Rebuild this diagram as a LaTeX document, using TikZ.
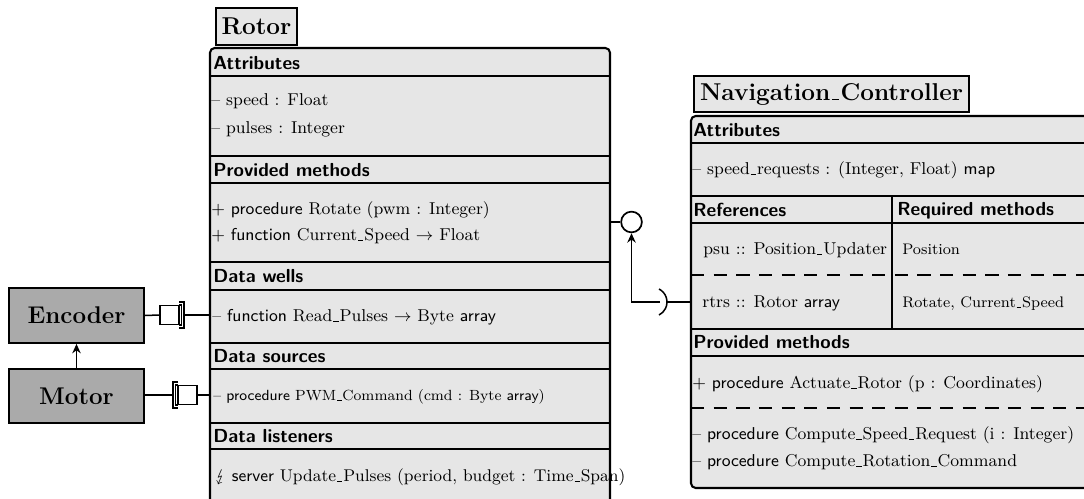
\documentclass[tikz,border=0pt]{standalone}
\usepackage{fontspec}
\usepackage{stmaryrd}
\usetikzlibrary{arrows.meta,fit,calc}
\definecolor{boxfill}{HTML}{E6E6E6}
\definecolor{devfill}{HTML}{AAAAAA}
% narrow baseline underscore for identifiers
\newcommand\usc{\leavevmode\kern.06em\vbox{\hrule width.3em height .45pt}\kern.06em}
\begin{document}
\begin{tikzpicture}[x=0.53pt,y=-0.53pt,
  classbox/.style={draw, line width=1.1pt, fill=boxfill, rounded corners=2.5pt, inner sep=0pt},
  titlebox/.style={draw, line width=1.1pt, fill=boxfill, font=\fontsize{12.9pt}{15pt}\selectfont\bfseries,
    inner xsep=3pt, minimum height=19.5pt},
  devbox/.style={draw, line width=1.1pt, fill=devfill, font=\fontsize{12.8pt}{15pt}\selectfont\bfseries,
    minimum width=71.5pt, minimum height=29pt, inner sep=0pt},
  secline/.style={line width=0.8pt},
  dsecline/.style={line width=0.8pt, dash pattern=on 7pt off 5pt},
  secthead/.style={anchor=west, inner sep=0pt, font=\sffamily\bfseries, text height=7pt, text depth=0pt},
  entry/.style={anchor=west, inner sep=0pt, text height=5pt, text depth=0pt,
    font=\fontsize{9.1pt}{11pt}\selectfont},
  smallentry/.style={entry, font=\fontsize{8.1pt}{10pt}\selectfont},
  srcentry/.style={entry, font=\fontsize{7.8pt}{10pt}\selectfont},
  listentry/.style={entry, font=\fontsize{9pt}{11pt}\selectfont},
  wire/.style={line width=0.8pt},
  portbox/.style={draw, line width=0.9pt, fill=white, minimum size=10pt, inner sep=0pt},
  lollipop/.style={circle, draw, line width=0.9pt, fill=white, minimum size=11pt, inner sep=0pt},
  tip/.style={-{Stealth[length=5pt,width=4.5pt]}},
]
\clip (0,0) rectangle (1084,499);

% ---------------- Rotor ----------------
\coordinate (r1) at (210,48);
\coordinate (r2) at (610,560);
\node[classbox, fit=(r1)(r2)] (rotor) {};
\node[titlebox] (rotortitle) at (256.5,26.5) {Rotor};
\foreach \yy in {76,156,183,262,290,343,369,423,449}
  \draw[secline] (210,\yy) -- (610,\yy);

\node[secthead] (rattr) at (213,63) {Attributes};
\node[entry] (rspeed) at (211,101) {-- speed : Float};
\node[entry] (rpulses) at (211,129) {-- pulses : Integer};
\node[secthead] (rprov) at (213,170) {Provided methods};
\node[entry] (rrot) at (211,210) {+ \textsf{procedure} Rotate (pwm : Integer)};
\node[entry] (rcur) at (211,236) {+ \textsf{function} Current\usc Speed $\rightarrow$ Float};
\node[secthead] (rwells) at (213,276) {Data wells};
\node[entry] (rread) at (212,317) {-- \textsf{function} Read\usc Pulses $\rightarrow$ Byte \textsf{array}};
\node[secthead] (rsrc) at (213,356) {Data sources};
\node[srcentry] (rpwm) at (213,396) {-- \textsf{procedure} PWM\usc Command (cmd : Byte \textsf{array})};
\node[secthead] (rlist) at (213,436) {Data listeners};
\node[listentry] (rupd) at (215,477) {$\lightning$ \textsf{server} Update\usc Pulses (period, budget : Time\usc Span)};

% ---------------- Navigation_Controller ----------------
\coordinate (n1) at (691,116);
\coordinate (n2) at (1130,488);
\node[classbox, fit=(n1)(n2)] (nav) {};
\node[titlebox] (navtitle) at (831.5,94) {Navigation\usc Controller};
\foreach \yy in {143,196,223,329,356}
  \draw[secline] (691,\yy) -- (1130,\yy);
\draw[secline] (892,196) -- (892,329);
\draw[dsecline] (691,275) -- (1130,275);
\draw[dsecline] (691,408) -- (1130,408);

\node[secthead] (nattr) at (693,130) {Attributes};
\node[entry] (nreq) at (692,170) {-- speed\usc requests : (Integer, Float) \textsf{map}};
\node[secthead] (nrefs) at (693,210) {References};
\node[secthead] (nreqm) at (897,209) {Required methods};
\node[entry] (npsu) at (703,250) {psu :: Position\usc Updater};
\node[smallentry] (npos) at (902,250) {Position};
\node[entry] (nrtrs) at (702,303) {rtrs :: Rotor \textsf{array}};
\node[smallentry] (nrotcur) at (902,303) {Rotate, Current\usc Speed};
\node[secthead] (nprov) at (693,342) {Provided methods};
\node[entry] (nact) at (692,384) {+ \textsf{procedure} Actuate\usc Rotor (p : Coordinates)};
\node[entry] (ncsr) at (692,435) {-- \textsf{procedure} Compute\usc Speed\usc Request (i : Integer)};
\node[entry] (ncrc) at (692,462) {-- \textsf{procedure} Compute\usc Rotation\usc Command};

% ---------------- Devices ----------------
\node[devbox] (enc) at (76.5,315.5) {Encoder};
\node[devbox] (mot) at (76.5,396) {Motor};
\draw[wire, tip] (mot.north) -- (enc.south);

% Encoder data well port
\node[portbox] (encport) at (169.5,315) {};
\coordinate (encbr) at (184,315);
\draw[wire] (179,302) -- (184,302) -- (184,328) -- (179,328);
\draw[wire] (179,305) -- (181.3,305) -- (181.3,325) -- (179,325);
\draw[wire] (enc.east) -- (encport.west);
\draw[wire] (encbr) -- (encbr -| rotor.west);

% Motor data source port
\node[portbox] (motport) at (187.5,395) {};
\coordinate (motbr) at (173,395);
\draw[wire] (178,382) -- (173,382) -- (173,408) -- (178,408);
\draw[wire] (178,385) -- (175.7,385) -- (175.7,405) -- (178,405);
\draw[wire] (mot.east |- motbr) -- (motbr);
\draw[wire] (motport.east) -- (motport.east -| rotor.west);

% Provided interface of the rotor and the controller's socket
\node[lollipop] (prov) at (631.5,222) {};
\draw[wire] (rotor.east |- prov) -- (prov.west);
\coordinate (socktip) at (667,302);
\coordinate (sockin) at (660,302);
\draw[wire] (659,289) arc[start angle=63, end angle=-63, radius=7.74pt];
\draw[wire] (socktip) -- (socktip -| nav.west);
\draw[wire, tip] (sockin) -| (prov.south);
\end{tikzpicture}
\end{document}
